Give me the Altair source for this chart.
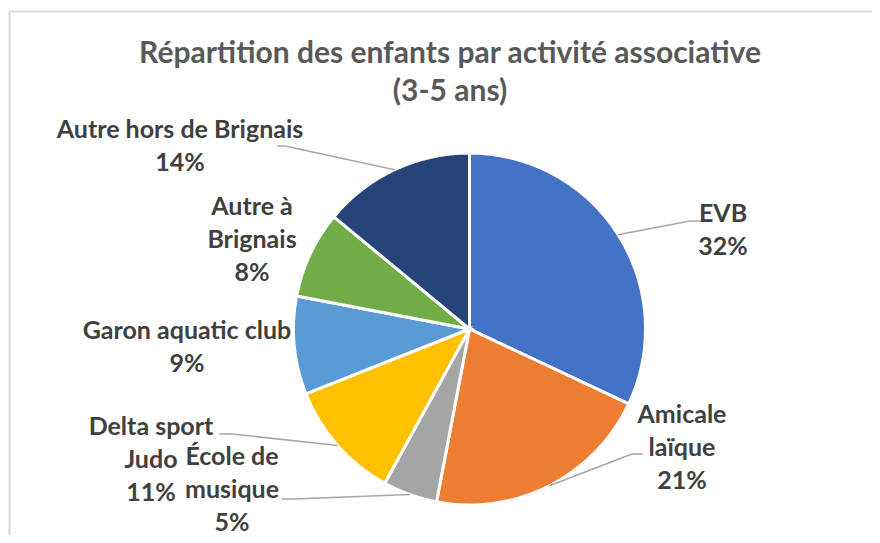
import altair as alt
import pandas as pd

# ---------------- data ----------------
categories = ["EVB", "Amicale laïque", "École de musique", "Delta sport Judo",
              "Garon aquatic club", "Autre à Brignais", "Autre hors de Brignais"]
percent = [32, 21, 5, 11, 9, 8, 14]
label_names = ["EVB", "Amicale\nlaïque", "École de\nmusique", "Delta sport\nJudo",
               "Garon aquatic club", "Autre à\nBrignais", "Autre hors de Brignais"]
colors = ["#4472C4", "#ED7D31", "#A5A5A5", "#FFC000", "#5B9BD5", "#70AD47", "#264478"]
title_lines = ["Répartition des enfants par activité associative", "(3-5 ans)"]

# ---------------- layout (pixels, view coordinates) ----------------
W, H = 864, 527
CX, CY, R = 461.5, 321, 176
FONT = "Lato"
# label first-baseline anchor, relative to pie centre
label_dx = [253.5, 212.5, -237.5, -318.5, -282.5, -217.5, -289.5]
label_dy = [-107, 94, 136, 106, 10, -114, -191]
# leader line elbow and end, relative to pie centre (None = no leader)
elbow_dx = [220.5, 162.5, -175.5, -237.5, None, None, -184.5]
elbow_dy = [-108, 125, 170, 105, None, None, -183]
end_dx = [232.5, 173.5, -187.5, -250.5, None, None, -192.5]
end_dy = [-108, 125, 170, 105, None, None, -183]

df = pd.DataFrame({
    "idx": list(range(len(categories))),
    "category": categories,
    "value": percent,
    "name": label_names,
    "ldx": label_dx, "ldy": label_dy,
    "edx": elbow_dx, "edy": elbow_dy,
    "ndx": end_dx, "ndy": end_dy,
})

color_scale = alt.Scale(domain=categories, range=colors)

base = alt.Chart(df).transform_window(
    cum="sum(value)", sort=[alt.SortField("idx")], frame=[None, 0]
).transform_joinaggregate(
    total="sum(value)"
).transform_calculate(
    mid="2*PI*(datum.cum - datum.value/2)/datum.total",
).transform_calculate(
    sx=f"{CX} + {R}*sin(datum.mid)",
    sy=f"{CY} - {R}*cos(datum.mid)",
    ex=f"{CX} + datum.edx",
    ey=f"{CY} + datum.edy",
    nx=f"{CX} + datum.ndx",
    ny=f"{CY} + datum.ndy",
    lx=f"{CX} + datum.ldx",
    ly=f"{CY} + datum.ldy",
    txt="datum.name + '\\n' + datum.value + '%'",
)

arcs = alt.Chart(df).mark_arc(outerRadius=R, stroke="white", strokeWidth=3).encode(
    theta=alt.Theta("value:Q", stack=True),
    color=alt.Color("category:N", scale=color_scale, legend=None),
    order=alt.Order("idx:Q"),
    x=alt.value(CX),
    y=alt.value(CY),
)

leader_rule = dict(color="#A6A6A6", strokeWidth=1.5)
leaders1 = base.transform_filter("isValid(datum.edx)").mark_rule(**leader_rule).encode(
    x=alt.X("sx:Q", scale=None), y=alt.Y("sy:Q", scale=None),
    x2="ex:Q", y2="ey:Q",
)
leaders2 = base.transform_filter("isValid(datum.edx)").mark_rule(**leader_rule).encode(
    x=alt.X("ex:Q", scale=None), y=alt.Y("ey:Q", scale=None),
    x2="nx:Q", y2="ny:Q",
)

labels = base.mark_text(
    align="center", baseline="alphabetic", lineBreak="\n", lineHeight=33,
    font=FONT, fontSize=25, fontWeight="bold", color="#404040",
).encode(
    x=alt.X("lx:Q", scale=None), y=alt.Y("ly:Q", scale=None),
    text="txt:N",
)

title_df = pd.DataFrame({"t": ["\n".join(title_lines)]})
title = alt.Chart(title_df).mark_text(
    align="center", baseline="alphabetic", lineBreak="\n", lineHeight=38,
    font=FONT, fontSize=30, fontWeight="bold", color="#595959",
).encode(x=alt.value(442), y=alt.value(55), text="t:N")

frame_df = pd.DataFrame({"f": [0]})
frame_top = alt.Chart(frame_df).mark_rule(color="#D9D9D9", strokeWidth=2).encode(
    x=alt.value(1.5), x2=alt.value(W), y=alt.value(3.5)
)
frame_left = alt.Chart(frame_df).mark_rule(color="#D9D9D9", strokeWidth=2).encode(
    x=alt.value(1.5), y=alt.value(3.5), y2=alt.value(H)
)

chart = alt.layer(frame_top, frame_left, title, arcs, leaders1, leaders2, labels).properties(
    width=W, height=H, autosize=alt.AutoSizeParams(type="none"), padding=0
).configure_view(stroke=None)

chart.save("out.html", embed_options={"renderer": "svg", "actions": False})
